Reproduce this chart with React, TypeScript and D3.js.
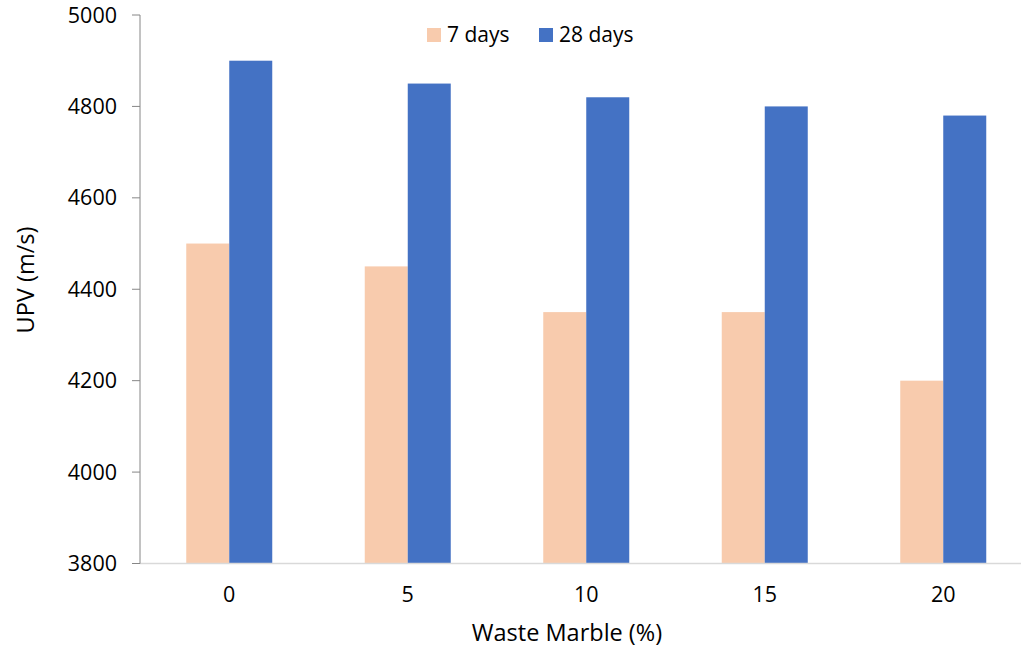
import React from "react";
import * as d3 from "d3";

const categories = ["0", "5", "10", "15", "20"];
const seriesNames = ["7 days", "28 days"];
const days7 = [4500, 4450, 4350, 4350, 4200];
const days28 = [4900, 4850, 4820, 4800, 4780];
const yTicks = [3800, 4000, 4200, 4400, 4600, 4800, 5000];
const colors = ["#F8CBAD", "#4472C4"];

const W = 1021;
const H = 651;
const left = 140;
const right = 1032.5;
const top = 15;
const bottom = 563.5;
const font = "'Open Sans', sans-serif";
const fs = 21;
const tickFs = 21.5;
const titleFs = 23.5;

export default function App() {
  const x = d3.scaleBand<string>().domain(categories).range([left, right]).paddingInner(0).paddingOuter(0);
  const y = d3.scaleLinear().domain([3800, 5000]).range([bottom, top]);
  const barW = 43;
  const series = [days7, days28];
  return (
    <svg width={W} height={H} style={{ position: "absolute", left: 0, top: 0 }}>
      <rect x={0} y={0} width={W} height={H} fill="#fff" />
      {categories.map((c, i) => {
        const cx = (x(c) as number) + x.bandwidth() / 2;
        return series.map((s, k) => (
          <rect
            key={c + k}
            x={cx - barW + k * barW}
            y={y(s[i])}
            width={barW}
            height={y(3800) - y(s[i])}
            fill={colors[k]}
          />
        ));
      })}
      <line x1={left} x2={W} y1={bottom} y2={bottom} stroke="#D9D9D9" strokeWidth={1.5} />
      <line x1={left} x2={left} y1={top} y2={bottom} stroke="#868686" strokeWidth={1} />
      {yTicks.map((t) => (
        <g key={t}>
          <line x1={left - 8} x2={left} y1={y(t)} y2={y(t)} stroke="#868686" strokeWidth={1} />
          <text x={117} y={y(t)} dy="0.35em" textAnchor="end" fontFamily={font} fontSize={tickFs} fill="#000">
            {t}
          </text>
        </g>
      ))}
      {categories.map((c) => (
        <text
          key={c}
          x={(x(c) as number) + x.bandwidth() / 2}
          y={602}
          textAnchor="middle"
          fontFamily={font}
          fontSize={tickFs}
          fill="#000"
        >
          {c}
        </text>
      ))}
      <text x={567} y={641} textAnchor="middle" fontFamily={font} fontSize={titleFs} fill="#000">
        Waste Marble (%)
      </text>
      <text
        transform={`translate(34, 280) rotate(-90)`}
        textAnchor="middle"
        fontFamily={font}
        fontSize={titleFs}
        fill="#000"
      >
        UPV (m/s)
      </text>
      {seriesNames.map((n, k) => {
        const lx = [427, 539][k];
        return (
          <g key={n}>
            <rect x={lx} y={28} width={14} height={14} fill={colors[k]} />
            <text x={lx + 20} y={35} dy="0.35em" fontFamily={font} fontSize={fs} fill="#000">
              {n}
            </text>
          </g>
        );
      })}
    </svg>
  );
}
